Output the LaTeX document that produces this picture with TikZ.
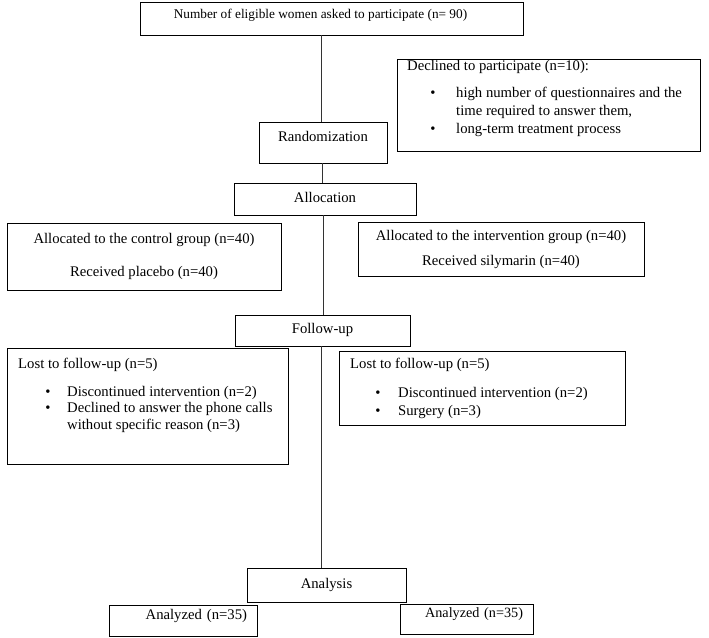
\documentclass[tikz,border=0pt]{standalone}
\usepackage{fontspec}
\setmainfont{Liberation Serif}
\usetikzlibrary{positioning}
\tikzstyle{box} = [draw, line width=0.9pt, inner sep=0pt,
font=\fontsize{14.7}{17}\selectfont]
\tikzstyle{single} = [box, text height=10pt, text depth=4pt] % one line of text
\tikzstyle{result} = [single, inner xsep=10pt, align=right]
\tikzstyle{txt} = [inner sep=0pt, anchor=west, text height=10pt, text depth=4pt,
font=\fontsize{14.7}{17}\selectfont]
\tikzstyle{bul} = [txt, anchor=center]
\tikzstyle{line} = [line width=0.6pt, black!80]

\begin{document}
\begin{tikzpicture}[x=1pt, y=-1pt]
  \useasboundingbox (0,0) rectangle (709,637);

  % boxes of the main column
  \node[box, minimum width=383pt, minimum height=33pt] (elig) at (331.5,18.5) {};
  \node[txt, anchor=center, font=\fontsize{13.3}{16}\selectfont] (eligt) at (320.5,15)
    {Number of eligible women asked to participate (n= 90)};
  \node[single, minimum width=128pt, minimum height=41pt] (rand)  at (323,142.5) {\raisebox{4pt}{Randomization}};
  \node[single, minimum width=182pt, minimum height=32pt] (alloc) at (325,199)   {Allocation};
  \node[single, minimum width=175pt, minimum height=31pt] (fup)   at (322.5,330.5) {Follow-up};
  \node[single, minimum width=159pt, minimum height=34pt] (anal)  at (326.5,585) {Analysis};

  % declined
  \node[box, minimum width=303pt, minimum height=92pt] (decl) at (548.5,105) {};
  \node[txt] (declh) at (407,67)  {Declined to participate (n=10):};
  \node[bul] (declb1) at (433,94) {\textbullet};
  \node[txt] (declt1) at (456,94)  {high number of questionnaires and the};
  \node[txt] (declt2) at (456,112) {time required to answer them,};
  \node[bul] (declb2) at (433,130) {\textbullet};
  \node[txt] (declt3) at (456,130) {long-term treatment process};

  % allocation to groups
  \node[box, minimum width=274pt, minimum height=67pt, align=center] (ctrl) at (144,256.5)
    {Allocated to the control group (n=40)\\[16pt]Received placebo (n=40)};
  \node[box, minimum width=286pt, minimum height=54pt, align=center] (intv) at (501,249)
    {Allocated to the intervention group (n=40)\\[8pt]Received silymarin (n=40)};

  % lost to follow-up, control
  \node[box, minimum width=281pt, minimum height=116pt] (lostc) at (147.5,406) {};
  \node[txt] (lostch) at (18,365)  {Lost to follow-up (n=5)};
  \node[bul] (lostcb1) at (48,393) {\textbullet};
  \node[txt] (lostct1) at (67,393) {Discontinued intervention (n=2)};
  \node[bul] (lostcb2) at (48,409) {\textbullet};
  \node[txt] (lostct2) at (67,409) {Declined to answer the phone calls};
  \node[txt] (lostct3) at (67,426) {without specific reason (n=3)};

  % lost to follow-up, intervention
  \node[box, minimum width=286pt, minimum height=74pt] (losti) at (482,388) {};
  \node[txt] (lostih) at (350,365)  {Lost to follow-up (n=5)};
  \node[bul] (lostib1) at (378,394) {\textbullet};
  \node[txt] (lostit1) at (398,394) {Discontinued intervention (n=2)};
  \node[bul] (lostib2) at (378,412) {\textbullet};
  \node[txt] (lostit2) at (398,412) {Surgery (n=3)};

  % analysed
  \node[result, minimum width=148pt, minimum height=31pt, text width=128pt] (resc) at (183,620.5)
    {\raisebox{4pt}{Analyzed (n=35)}};
  \node[result, minimum width=133pt, minimum height=30pt, text width=113pt,
    font=\fontsize{14.2}{17}\selectfont] (resi) at (466.5,619)
    {\raisebox{5pt}{Analyzed (n=35)}};

  % connectors
  \draw[line] (elig.south -| 321,0) -- (rand.north -| 321,0);
  \draw[line] (rand.south -| 322,0) -- (alloc.north -| 322,0);
  \draw[line] (alloc.south -| 323,0) -- (fup.north -| 323,0);
  \draw[line] (fup.south -| 321,0) -- (anal.north -| 321,0);
\end{tikzpicture}
\end{document}
